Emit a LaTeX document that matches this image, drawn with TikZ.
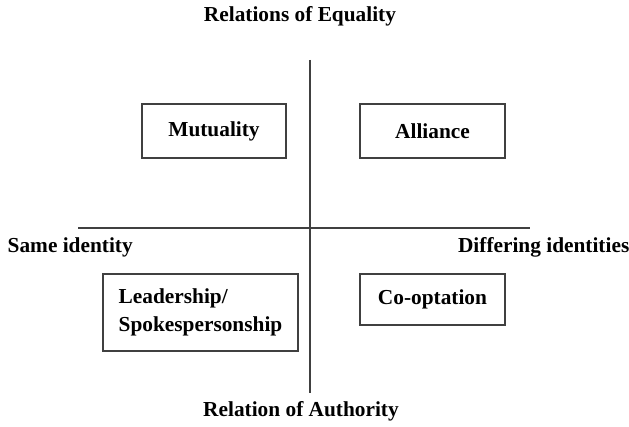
\documentclass[tikz,border=0pt]{standalone}
\usepackage{fontspec}
\setmainfont{Liberation Serif}

\begin{document}
\begin{tikzpicture}[x=0.75pt, y=-0.75pt,
    quadrant/.style ={draw=black!75, line width=1.1pt, inner sep=0pt,
                      font=\bfseries\fontsize{16}{21}\selectfont},
    axislabel/.style ={font=\bfseries\fontsize{16}{21}\selectfont},
    axis/.style ={draw=black!75, line width=1.1pt}]
   \useasboundingbox (0,0) rectangle (629,427);
   % the two axes
   \coordinate (N) at (310,60);
   \coordinate (S) at (310,393);
   \coordinate (W) at (78,228);
   \coordinate (E) at (530,228);
   \draw[axis] (N) -- (S);
   \draw[axis] (W) -- (E);
   % axis ends
   \node[axislabel] (equal) at (300,16) {Relations of Equality};
   \node[axislabel] (auth) at (301,411) {Relation of Authority};
   \node[axislabel, anchor=west] (same) at (3,247) {Same identity};
   \node[axislabel, anchor=east] (diff) at (634,247) {Differing identities};
   % the four quadrants
   \node[quadrant, minimum width=144pt*0.75, minimum height=54pt*0.75] (mutual) at (214,131) {Mutuality};
   \node[quadrant, minimum width=145pt*0.75, minimum height=54pt*0.75] (alli) at (432.5,131) {Alliance};
   \node[quadrant, minimum width=195pt*0.75, minimum height=77pt*0.75,
         align=left] (lead) at (200.5,312.5) {Leadership/\\Spokespersonship};
   \node[quadrant, minimum width=145pt*0.75, minimum height=51pt*0.75] (coopt) at (432.5,299.5) {Co-optation};
 \end{tikzpicture}
\end{document}
